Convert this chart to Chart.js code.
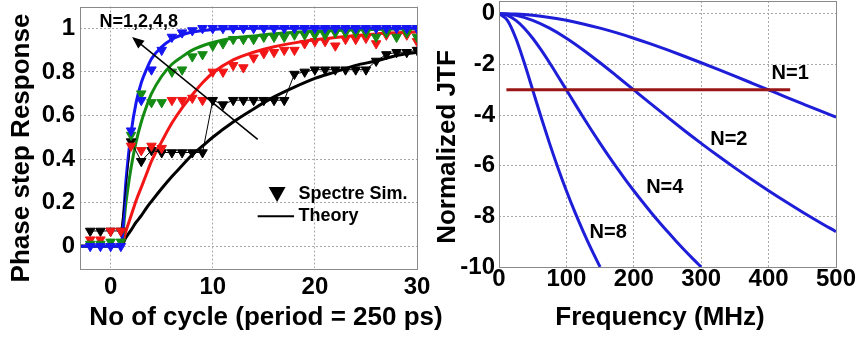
<!DOCTYPE html>
<html>
<head>
<meta charset="utf-8">
<script src="https://cdn.jsdelivr.net/npm/chart.js@4.4.0/dist/chart.umd.min.js"></script>
<style>
  html, body { margin: 0; padding: 0; background: #fff; }
  #wrap { position: relative; width: 859px; height: 341px; overflow: hidden; background: #fff; }
  #wrap canvas { position: absolute; top: 0; }
  #stepChart { left: 0; }
  #jtfChart { left: 430px; }
</style>
</head>
<body>
<div id="wrap">
  <canvas id="jtfChart" width="429" height="341"></canvas>
  <canvas id="stepChart" width="460" height="341"></canvas>
</div>
<script>
// ── Left panel: phase step response ───────────────────────────
const STEP_X_TICKS = [0, 10, 20, 30];
const STEP_Y_TICKS = [0, 0.2, 0.4, 0.6, 0.8, 1];

// theory curves (thick lines)
const theoryX  = [-3, 1, 1.5, 2, 2.5, 3, 3.5, 4, 5, 6, 7, 8, 9, 10, 12, 14, 16, 18, 20, 22, 24, 26, 28, 30];
const theoryN1 = [0, 0, 0.30, 0.52, 0.66, 0.75, 0.81, 0.86, 0.915, 0.95, 0.97, 0.983, 0.99, 0.995, 0.998, 1, 1, 1, 1, 1, 1, 1, 1, 1];
const theoryN2 = [0, 0, 0.20, 0.36, 0.48, 0.57, 0.64, 0.70, 0.78, 0.835, 0.87, 0.90, 0.92, 0.935, 0.955, 0.965, 0.975, 0.982, 0.987, 0.99, 0.993, 0.995, 0.997, 0.998];
const theoryN4 = [0, 0, 0.07, 0.14, 0.21, 0.27, 0.33, 0.39, 0.48, 0.565, 0.635, 0.695, 0.75, 0.795, 0.855, 0.89, 0.915, 0.933, 0.947, 0.958, 0.967, 0.974, 0.979, 0.983];
const theoryN8 = [0, 0, 0.04, 0.074, 0.11, 0.14, 0.175, 0.206, 0.265, 0.32, 0.37, 0.42, 0.46, 0.50, 0.57, 0.63, 0.685, 0.73, 0.77, 0.80, 0.83, 0.85, 0.875, 0.89];

// Spectre simulation points (triangles), one per cycle
const simX  = [-2, -1, 0, 1, 2, 3, 4, 5, 6, 7, 8, 9, 10, 11, 12, 13, 14, 15, 16, 17, 18, 19, 20, 21, 22, 23, 24, 25, 26, 27, 28, 29, 30];
const simN1 = [0, 0, 0, 0, 0.53, 0.67, 0.81, 0.90, 0.96, 0.98, 0.99, 1, 1, 1, 1, 1, 1, 1, 1, 1, 1, 1, 1, 1, 1, 1, 1, 1, 1, 1, 1, 1, 1];
const simN2 = [0.01, 0.01, 0.02, 0.02, 0.51, 0.70, 0.66, 0.66, 0.80, 0.81, 0.87, 0.88, 0.92, 0.93, 0.95, 0.95, 0.95, 0.96, 0.96, 0.96, 0.97, 0.97, 0.97, 0.97, 0.98, 0.98, 0.98, 0.98, 0.96, 0.98, 0.96, 0.98, 0.96];
const simN4 = [0.03, 0.03, 0.07, 0.07, 0.46, 0.44, 0.46, 0.45, 0.67, 0.67, 0.68, 0.67, 0.80, 0.80, 0.83, 0.82, 0.865, 0.885, 0.89, 0.90, 0.90, 0.93, 0.94, 0.94, 0.92, 0.95, 0.95, 0.955, 0.93, 0.97, 0.965, 0.97, 0.94];
const simN8 = [0.07, 0.07, 0.07, 0.07, 0.48, 0.39, 0.44, 0.43, 0.43, 0.43, 0.43, 0.43, 0.67, 0.65, 0.67, 0.67, 0.67, 0.67, 0.67, 0.67, 0.79, 0.80, 0.81, 0.81, 0.81, 0.81, 0.81, 0.81, 0.85, 0.88, 0.89, 0.89, 0.90];

// ── Right panel: normalized jitter transfer function ─────────
const JTF_X_TICKS = [0, 100, 200, 300, 400, 500];
const JTF_Y_TICKS = [-10, -8, -6, -4, -2, 0];

const jtfFreqWide = [0, 25, 50, 75, 100, 125, 150, 175, 200, 225, 250, 275, 300, 325, 350, 375, 400, 425, 450, 475, 500];
const jtfN1 = [0, -0.017, -0.067, -0.150, -0.263, -0.405, -0.572, -0.760, -0.969, -1.194, -1.432, -1.681, -1.938, -2.201, -2.469, -2.739, -3.010, -3.282, -3.552, -3.821, -4.087];
const jtfN2 = [0, -0.067, -0.263, -0.572, -0.969, -1.432, -1.938, -2.469, -3.010, -3.552, -4.087, -4.610, -5.119, -5.612, -6.088, -6.547, -6.990, -7.416, -7.826, -8.222, -8.603];
const jtfFreqN4 = [0, 12.5, 25, 37.5, 50, 62.5, 75, 87.5, 100, 112.5, 125, 137.5, 150, 162.5, 175, 187.5, 200, 212.5, 225, 237.5, 250, 262.5, 275, 287.5, 300];
const jtfN4 = [0, -0.067, -0.263, -0.572, -0.969, -1.432, -1.938, -2.469, -3.010, -3.552, -4.087, -4.610, -5.119, -5.612, -6.088, -6.547, -6.990, -7.416, -7.826, -8.222, -8.603, -8.971, -9.326, -9.669, -10.0];
const jtfFreqN8 = [0, 12.5, 25, 37.5, 50, 62.5, 75, 87.5, 100, 112.5, 125, 137.5, 150];
const jtfN8 = [0, -0.263, -0.969, -1.938, -3.010, -4.087, -5.119, -6.088, -6.990, -7.826, -8.603, -9.326, -10.0];
const cutoffFreq = [11, 432];
const cutoffLevel = [-3, -3];

// ── Shared look ──────────────────────────────────────────────
const FONT = "'Liberation Sans', Arial, Helvetica, sans-serif";
Chart.defaults.font.family = FONT;
Chart.defaults.color = '#000';

const BLUE  = '#1616f2';
const GREEN = '#148c14';
const RED   = '#f21616';
const BLACK = '#000000';
const JTF_BLUE = '#1e1ed8';
const MAROON   = '#9a1616';
const GRID  = '#a8a8a8';
const BOX   = '#8a8a8a';

const zip = (xs, ys) => xs.map((x, i) => ({ x, y: ys[i] }));

const tickFont = { size: 24, weight: 'bold', lineHeight: 1 };

const theoryLine = (xs, ys, color) => ({
  data: zip(xs, ys), showLine: true, borderColor: color, borderWidth: 3,
  pointRadius: 0, cubicInterpolationMode: 'monotone', fill: false, order: 2
});
const simPoints = (xs, ys, color, withLine) => ({
  data: zip(xs, ys), showLine: withLine, borderColor: color, borderWidth: 1,
  pointStyle: 'triangle', pointRotation: 180, pointRadius: 5.5,
  pointBackgroundColor: color, pointBorderColor: color, pointBorderWidth: 1, order: 1
});

// keep the plot area exactly where the afterFit sizes put it
const noEdgePadding = (s) => {
  s.paddingTop = 0; s.paddingBottom = 0; s.paddingLeft = 0; s.paddingRight = 0;
};

// text helper
const drawText = (ctx, text, x, y, size, align = 'center', rotate = 0) => {
  ctx.save();
  ctx.translate(x, y);
  ctx.rotate(rotate);
  ctx.font = `bold ${size}px ${FONT}`;
  ctx.fillStyle = '#000';
  ctx.textAlign = align;
  ctx.textBaseline = 'middle';
  ctx.fillText(text, 0, 0);
  ctx.restore();
};

const drawBox = (chart) => {
  const { ctx, chartArea: a } = chart;
  ctx.save();
  ctx.strokeStyle = BOX;
  ctx.lineWidth = 1;
  ctx.strokeRect(Math.round(a.left) + 0.5, Math.round(a.top) + 0.5,
                 Math.round(a.right - a.left), Math.round(a.bottom - a.top));
  ctx.restore();
};

// ══════════════════════════════════════════════════════════════
// LEFT — Phase step response
// ══════════════════════════════════════════════════════════════
const stepDecor = {
  id: 'stepDecor',
  afterDraw(chart) {
    const { ctx, scales: { x, y } } = chart;
    const P = (vx, vy) => [x.getPixelForValue(vx), y.getPixelForValue(vy)];
    drawBox(chart);

    // arrow pointing toward increasing N
    const [x0, y0] = P(14.4, 0.49);
    const [x1, y1] = P(2.1, 0.96);
    const ang = Math.atan2(y1 - y0, x1 - x0);
    ctx.save();
    ctx.strokeStyle = '#000';
    ctx.fillStyle = '#000';
    ctx.lineWidth = 1.5;
    ctx.beginPath();
    ctx.moveTo(x0, y0);
    ctx.lineTo(x1 - 8 * Math.cos(ang), y1 - 8 * Math.sin(ang));
    ctx.stroke();
    ctx.beginPath();
    ctx.moveTo(x1, y1);
    ctx.lineTo(x1 - 12 * Math.cos(ang) + 5 * Math.sin(ang), y1 - 12 * Math.sin(ang) - 5 * Math.cos(ang));
    ctx.lineTo(x1 - 12 * Math.cos(ang) - 5 * Math.sin(ang), y1 - 12 * Math.sin(ang) + 5 * Math.cos(ang));
    ctx.closePath();
    ctx.fill();
    ctx.restore();

    const [nx, ny] = P(2.75, 1.03);
    drawText(ctx, 'N=1,2,4,8', nx, ny, 18);

    // legend
    const [tx, ty] = P(16.3, 0.24);
    ctx.save();
    ctx.fillStyle = '#000';
    ctx.beginPath();
    ctx.moveTo(tx - 8.5, ty - 7);
    ctx.lineTo(tx + 8.5, ty - 7);
    ctx.lineTo(tx, ty + 8);
    ctx.closePath();
    ctx.fill();
    const [lx0, ly] = P(14.4, 0.138);
    const [lx1] = P(17.96, 0.138);
    ctx.strokeStyle = '#000';
    ctx.lineWidth = 2;
    ctx.beginPath();
    ctx.moveTo(lx0, ly);
    ctx.lineTo(lx1, ly);
    ctx.stroke();
    ctx.restore();
    const [sx] = P(18.4, 0);
    drawText(ctx, 'Spectre Sim.', sx, ty, 18, 'left');
    drawText(ctx, 'Theory', sx, ly, 18, 'left');

    // axis titles
    drawText(ctx, 'No of cycle (period = 250 ps)', 266, 318, 26);
    drawText(ctx, 'Phase step Response', 22, 148, 26, 'center', -Math.PI / 2);
  }
};

new Chart(document.getElementById('stepChart'), {
  type: 'scatter',
  data: {
    datasets: [
      simPoints(simX, simN1, BLUE, false),
      simPoints(simX, simN2, GREEN, false),
      simPoints(simX, simN4, RED, false),
      simPoints(simX, simN8, BLACK, true),
      theoryLine(theoryX, theoryN1, BLUE),
      theoryLine(theoryX, theoryN2, GREEN),
      theoryLine(theoryX, theoryN4, RED),
      theoryLine(theoryX, theoryN8, BLACK)
    ]
  },
  options: {
    responsive: false,
    animation: false,
    events: [],
    layout: { padding: { left: 0, right: 43, top: 3, bottom: 0 } },
    plugins: { legend: { display: false }, tooltip: { enabled: false } },
    scales: {
      x: {
        type: 'linear', min: -3, max: 30,
        afterBuildTicks: (s) => { s.ticks = STEP_X_TICKS.map(v => ({ value: v })); },
        afterFit: (s) => { s.height = 73; noEdgePadding(s); },
        ticks: { font: tickFont, padding: 7, maxRotation: 0, color: '#000' },
        grid: { color: GRID, lineWidth: 1, drawTicks: false },
        border: { display: false, dash: [2, 2] }
      },
      y: {
        type: 'linear', min: -0.1, max: 1.1,
        afterBuildTicks: (s) => { s.ticks = STEP_Y_TICKS.map(v => ({ value: v })); },
        afterFit: (s) => { s.width = 80; noEdgePadding(s); },
        ticks: { font: tickFont, padding: 5, color: '#000', callback: (v) => String(v) },
        grid: { color: GRID, lineWidth: 1, drawTicks: false },
        border: { display: false, dash: [2, 2] }
      }
    }
  },
  plugins: [stepDecor]
});

// ══════════════════════════════════════════════════════════════
// RIGHT — Normalized JTF
// ══════════════════════════════════════════════════════════════
const jtfDecor = {
  id: 'jtfDecor',
  afterDraw(chart) {
    const { ctx, scales: { x, y } } = chart;
    drawBox(chart);
    const labels = [['N=1', 432, -2.37], ['N=2', 341, -4.98], ['N=4', 246, -6.88], ['N=8', 162, -8.62]];
    labels.forEach(([t, vx, vy]) => drawText(ctx, t, x.getPixelForValue(vx), y.getPixelForValue(vy), 20));
    drawText(ctx, 'Frequency (MHz)', 230, 318, 26);
    drawText(ctx, 'Normalized JTF', 18, 147, 26, 'center', -Math.PI / 2);
  }
};

const jtfLine = (xs, ys, color) => ({
  data: zip(xs, ys), showLine: true, borderColor: color, borderWidth: 3,
  pointRadius: 0, cubicInterpolationMode: 'monotone', fill: false
});

new Chart(document.getElementById('jtfChart'), {
  type: 'scatter',
  data: {
    datasets: [
      jtfLine(jtfFreqWide, jtfN1, JTF_BLUE),
      jtfLine(jtfFreqWide, jtfN2, JTF_BLUE),
      jtfLine(jtfFreqN4, jtfN4, JTF_BLUE),
      jtfLine(jtfFreqN8, jtfN8, JTF_BLUE),
      { ...jtfLine(cutoffFreq, cutoffLevel, MAROON), order: -1 }
    ]
  },
  options: {
    responsive: false,
    animation: false,
    events: [],
    layout: { padding: { left: 0, right: 23, top: 1, bottom: 0 } },
    plugins: { legend: { display: false }, tooltip: { enabled: false } },
    scales: {
      x: {
        type: 'linear', min: 0, max: 500,
        afterBuildTicks: (s) => { s.ticks = JTF_X_TICKS.map(v => ({ value: v })); },
        afterFit: (s) => { s.height = 74; noEdgePadding(s); },
        ticks: { font: tickFont, padding: 0, maxRotation: 0, color: '#000' },
        grid: { color: GRID, lineWidth: 1, drawTicks: false },
        border: { display: false, dash: [2, 2] }
      },
      y: {
        type: 'linear', min: -10, max: 0.5,
        afterBuildTicks: (s) => { s.ticks = JTF_Y_TICKS.map(v => ({ value: v })); },
        afterFit: (s) => { s.width = 69; noEdgePadding(s); },
        ticks: { font: tickFont, padding: 4, color: '#000', callback: (v) => String(v) },
        grid: { color: GRID, lineWidth: 1, drawTicks: false },
        border: { display: false, dash: [2, 2] }
      }
    }
  },
  plugins: [jtfDecor]
});
</script>
</body>
</html>
